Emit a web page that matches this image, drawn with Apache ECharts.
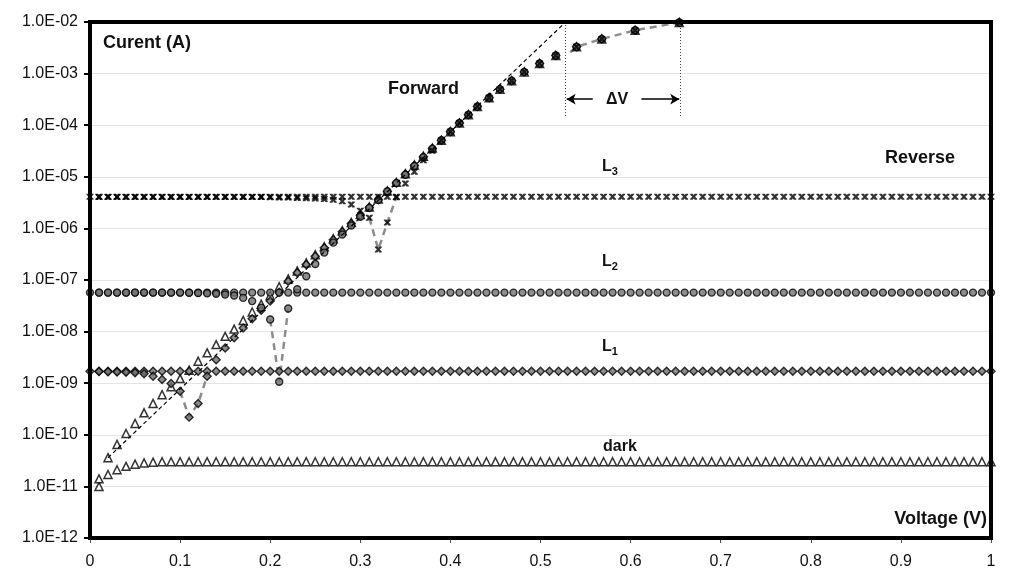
<!DOCTYPE html>
<html>
<head>
<meta charset="utf-8">
<script src="https://cdn.jsdelivr.net/npm/echarts@6/dist/echarts.min.js"></script>
<style>
  html, body { margin: 0; padding: 0; background: #fff; }
  #main { width: 1024px; height: 582px; }
</style>
</head>
<body>
<div id="main"></div>
<script>
// reverse sweep, 0 .. 1 V
var volts = [
  0.00, 0.01, 0.02, 0.03, 0.04, 0.05, 0.06, 0.07, 0.08, 0.09,
  0.10, 0.11, 0.12, 0.13, 0.14, 0.15, 0.16, 0.17, 0.18, 0.19,
  0.20, 0.21, 0.22, 0.23, 0.24, 0.25, 0.26, 0.27, 0.28, 0.29,
  0.30, 0.31, 0.32, 0.33, 0.34, 0.35, 0.36, 0.37, 0.38, 0.39,
  0.40, 0.41, 0.42, 0.43, 0.44, 0.45, 0.46, 0.47, 0.48, 0.49,
  0.50, 0.51, 0.52, 0.53, 0.54, 0.55, 0.56, 0.57, 0.58, 0.59,
  0.60, 0.61, 0.62, 0.63, 0.64, 0.65, 0.66, 0.67, 0.68, 0.69,
  0.70, 0.71, 0.72, 0.73, 0.74, 0.75, 0.76, 0.77, 0.78, 0.79,
  0.80, 0.81, 0.82, 0.83, 0.84, 0.85, 0.86, 0.87, 0.88, 0.89,
  0.90, 0.91, 0.92, 0.93, 0.94, 0.95, 0.96, 0.97, 0.98, 0.99,
  1.00
];
var revDark = [
  null, 1.0e-11, 1.7e-11, 2.1e-11, 2.45e-11, 2.7e-11, 2.85e-11, 2.95e-11, 3.0e-11, 3.0e-11,
  3.0e-11, 3.0e-11, 3.0e-11, 3.0e-11, 3.0e-11, 3.0e-11, 3.0e-11, 3.0e-11, 3.0e-11, 3.0e-11,
  3.0e-11, 3.0e-11, 3.0e-11, 3.0e-11, 3.0e-11, 3.0e-11, 3.0e-11, 3.0e-11, 3.0e-11, 3.0e-11,
  3.0e-11, 3.0e-11, 3.0e-11, 3.0e-11, 3.0e-11, 3.0e-11, 3.0e-11, 3.0e-11, 3.0e-11, 3.0e-11,
  3.0e-11, 3.0e-11, 3.0e-11, 3.0e-11, 3.0e-11, 3.0e-11, 3.0e-11, 3.0e-11, 3.0e-11, 3.0e-11,
  3.0e-11, 3.0e-11, 3.0e-11, 3.0e-11, 3.0e-11, 3.0e-11, 3.0e-11, 3.0e-11, 3.0e-11, 3.0e-11,
  3.0e-11, 3.0e-11, 3.0e-11, 3.0e-11, 3.0e-11, 3.0e-11, 3.0e-11, 3.0e-11, 3.0e-11, 3.0e-11,
  3.0e-11, 3.0e-11, 3.0e-11, 3.0e-11, 3.0e-11, 3.0e-11, 3.0e-11, 3.0e-11, 3.0e-11, 3.0e-11,
  3.0e-11, 3.0e-11, 3.0e-11, 3.0e-11, 3.0e-11, 3.0e-11, 3.0e-11, 3.0e-11, 3.0e-11, 3.0e-11,
  3.0e-11, 3.0e-11, 3.0e-11, 3.0e-11, 3.0e-11, 3.0e-11, 3.0e-11, 3.0e-11, 3.0e-11, 3.0e-11,
  3.0e-11
];
var revL1 = [
  1.7e-9, 1.7e-9, 1.7e-9, 1.7e-9, 1.7e-9, 1.7e-9, 1.7e-9, 1.7e-9, 1.7e-9, 1.7e-9,
  1.7e-9, 1.7e-9, 1.7e-9, 1.7e-9, 1.7e-9, 1.7e-9, 1.7e-9, 1.7e-9, 1.7e-9, 1.7e-9,
  1.7e-9, 1.7e-9, 1.7e-9, 1.7e-9, 1.7e-9, 1.7e-9, 1.7e-9, 1.7e-9, 1.7e-9, 1.7e-9,
  1.7e-9, 1.7e-9, 1.7e-9, 1.7e-9, 1.7e-9, 1.7e-9, 1.7e-9, 1.7e-9, 1.7e-9, 1.7e-9,
  1.7e-9, 1.7e-9, 1.7e-9, 1.7e-9, 1.7e-9, 1.7e-9, 1.7e-9, 1.7e-9, 1.7e-9, 1.7e-9,
  1.7e-9, 1.7e-9, 1.7e-9, 1.7e-9, 1.7e-9, 1.7e-9, 1.7e-9, 1.7e-9, 1.7e-9, 1.7e-9,
  1.7e-9, 1.7e-9, 1.7e-9, 1.7e-9, 1.7e-9, 1.7e-9, 1.7e-9, 1.7e-9, 1.7e-9, 1.7e-9,
  1.7e-9, 1.7e-9, 1.7e-9, 1.7e-9, 1.7e-9, 1.7e-9, 1.7e-9, 1.7e-9, 1.7e-9, 1.7e-9,
  1.7e-9, 1.7e-9, 1.7e-9, 1.7e-9, 1.7e-9, 1.7e-9, 1.7e-9, 1.7e-9, 1.7e-9, 1.7e-9,
  1.7e-9, 1.7e-9, 1.7e-9, 1.7e-9, 1.7e-9, 1.7e-9, 1.7e-9, 1.7e-9, 1.7e-9, 1.7e-9,
  1.7e-9
];
var revL2 = [
  5.7e-8, 5.7e-8, 5.7e-8, 5.7e-8, 5.7e-8, 5.7e-8, 5.7e-8, 5.7e-8, 5.7e-8, 5.7e-8,
  5.7e-8, 5.7e-8, 5.7e-8, 5.7e-8, 5.7e-8, 5.7e-8, 5.7e-8, 5.7e-8, 5.7e-8, 5.7e-8,
  5.7e-8, 5.7e-8, 5.7e-8, 5.7e-8, 5.7e-8, 5.7e-8, 5.7e-8, 5.7e-8, 5.7e-8, 5.7e-8,
  5.7e-8, 5.7e-8, 5.7e-8, 5.7e-8, 5.7e-8, 5.7e-8, 5.7e-8, 5.7e-8, 5.7e-8, 5.7e-8,
  5.7e-8, 5.7e-8, 5.7e-8, 5.7e-8, 5.7e-8, 5.7e-8, 5.7e-8, 5.7e-8, 5.7e-8, 5.7e-8,
  5.7e-8, 5.7e-8, 5.7e-8, 5.7e-8, 5.7e-8, 5.7e-8, 5.7e-8, 5.7e-8, 5.7e-8, 5.7e-8,
  5.7e-8, 5.7e-8, 5.7e-8, 5.7e-8, 5.7e-8, 5.7e-8, 5.7e-8, 5.7e-8, 5.7e-8, 5.7e-8,
  5.7e-8, 5.7e-8, 5.7e-8, 5.7e-8, 5.7e-8, 5.7e-8, 5.7e-8, 5.7e-8, 5.7e-8, 5.7e-8,
  5.7e-8, 5.7e-8, 5.7e-8, 5.7e-8, 5.7e-8, 5.7e-8, 5.7e-8, 5.7e-8, 5.7e-8, 5.7e-8,
  5.7e-8, 5.7e-8, 5.7e-8, 5.7e-8, 5.7e-8, 5.7e-8, 5.7e-8, 5.7e-8, 5.7e-8, 5.7e-8,
  5.7e-8
];
var revL3 = [
  4.1e-6, 4.1e-6, 4.1e-6, 4.1e-6, 4.1e-6, 4.1e-6, 4.1e-6, 4.1e-6, 4.1e-6, 4.1e-6,
  4.1e-6, 4.1e-6, 4.1e-6, 4.1e-6, 4.1e-6, 4.1e-6, 4.1e-6, 4.1e-6, 4.1e-6, 4.1e-6,
  4.1e-6, 4.1e-6, 4.1e-6, 4.1e-6, 4.1e-6, 4.1e-6, 4.1e-6, 4.1e-6, 4.1e-6, 4.1e-6,
  4.1e-6, 4.1e-6, 4.1e-6, 4.1e-6, 4.1e-6, 4.1e-6, 4.1e-6, 4.1e-6, 4.1e-6, 4.1e-6,
  4.1e-6, 4.1e-6, 4.1e-6, 4.1e-6, 4.1e-6, 4.1e-6, 4.1e-6, 4.1e-6, 4.1e-6, 4.1e-6,
  4.1e-6, 4.1e-6, 4.1e-6, 4.1e-6, 4.1e-6, 4.1e-6, 4.1e-6, 4.1e-6, 4.1e-6, 4.1e-6,
  4.1e-6, 4.1e-6, 4.1e-6, 4.1e-6, 4.1e-6, 4.1e-6, 4.1e-6, 4.1e-6, 4.1e-6, 4.1e-6,
  4.1e-6, 4.1e-6, 4.1e-6, 4.1e-6, 4.1e-6, 4.1e-6, 4.1e-6, 4.1e-6, 4.1e-6, 4.1e-6,
  4.1e-6, 4.1e-6, 4.1e-6, 4.1e-6, 4.1e-6, 4.1e-6, 4.1e-6, 4.1e-6, 4.1e-6, 4.1e-6,
  4.1e-6, 4.1e-6, 4.1e-6, 4.1e-6, 4.1e-6, 4.1e-6, 4.1e-6, 4.1e-6, 4.1e-6, 4.1e-6,
  4.1e-6
];

// forward sweep
var fwdVolts = [
  0.01, 0.02, 0.03, 0.04, 0.05, 0.06, 0.07, 0.08, 0.09, 0.10,
  0.11, 0.12, 0.13, 0.14, 0.15, 0.16, 0.17, 0.18, 0.19, 0.20,
  0.21, 0.22, 0.23, 0.24, 0.25, 0.26, 0.27, 0.28, 0.29, 0.30,
  0.31, 0.32, 0.33, 0.34, 0.35, 0.36, 0.37, 0.38,
  // all four curves coincide from here
  0.39, 0.40, 0.41, 0.42, 0.43, 0.443, 0.455, 0.468, 0.482, 0.499,
  0.517, 0.54, 0.568, 0.605, 0.654
];
var fwdDark = [
  1.4e-11, 3.6e-11, 6.5e-11, 1.06e-10, 1.66e-10, 2.67e-10, 4.05e-10, 6.0e-10, 8.5e-10, 1.23e-9,
  1.79e-9, 2.67e-9, 3.88e-9, 5.6e-9, 8.1e-9, 1.12e-8, 1.65e-8, 2.4e-8, 3.4e-8, 5.0e-8,
  7.4e-8, 1.05e-7, 1.5e-7, 2.15e-7, 3.1e-7, 4.4e-7, 6.3e-7, 9.0e-7, 1.3e-6, 1.85e-6,
  2.6e-6, 3.7e-6, 5.3e-6, 7.8e-6, 1.15e-5, 1.7e-5, 2.5e-5, 3.6e-5
];
var fwdL1 = [
  1.68e-9, 1.67e-9, 1.65e-9, 1.63e-9, 1.6e-9, 1.52e-9, 1.37e-9, 1.18e-9, 9.9e-10, 7.0e-10,
  2.2e-10, 4.05e-10, 1.37e-9, 2.85e-9, 4.8e-9, 7.6e-9, 1.18e-8, 1.77e-8, 2.6e-8, 3.9e-8,
  5.8e-8, 9.5e-8, 1.38e-7, 2.0e-7, 2.9e-7, 4.2e-7, 6.0e-7, 8.6e-7, 1.25e-6, 1.8e-6,
  2.55e-6, 3.6e-6, 5.2e-6, 7.6e-6, 1.12e-5, 1.65e-5, 2.45e-5, 3.55e-5
];
var fwdL2 = [
  5.7e-8, 5.7e-8, 5.7e-8, 5.7e-8, 5.7e-8, 5.7e-8, 5.7e-8, 5.7e-8, 5.7e-8, 5.7e-8,
  5.65e-8, 5.6e-8, 5.5e-8, 5.4e-8, 5.25e-8, 5.0e-8, 4.5e-8, 3.9e-8, 2.9e-8, 1.72e-8,
  1.07e-9, 2.8e-8, 6.6e-8, 1.18e-7, 2.04e-7, 3.4e-7, 5.3e-7, 7.6e-7, 1.14e-6, 1.68e-6,
  2.5e-6, 3.6e-6, 5.25e-6, 7.6e-6, 1.1e-5, 1.62e-5, 2.4e-5, 3.5e-5
];
var fwdL3 = [
  4.05e-6, 4.05e-6, 4.05e-6, 4.05e-6, 4.05e-6, 4.05e-6, 4.05e-6, 4.05e-6, 4.05e-6, 4.05e-6,
  4.05e-6, 4.05e-6, 4.05e-6, 4.05e-6, 4.05e-6, 4.05e-6, 4.05e-6, 4.05e-6, 4.05e-6, 4.0e-6,
  3.98e-6, 3.95e-6, 3.9e-6, 3.85e-6, 3.8e-6, 3.7e-6, 3.6e-6, 3.35e-6, 2.9e-6, 2.2e-6,
  1.6e-6, 3.9e-7, 1.3e-6, 4.0e-6, 7.4e-6, 1.25e-5, 2.1e-5, 3.2e-5
];
var fwdCommon = [
  5.1e-5, 7.5e-5, 1.1e-4, 1.6e-4, 2.3e-4, 3.4e-4, 5.0e-4, 7.3e-4, 1.08e-3, 1.57e-3,
  2.24e-3, 3.3e-3, 4.7e-3, 6.9e-3, 9.8e-3
];

// dashed grey curve through the saturation points
var satV = [0.533, 0.54, 0.568, 0.605, 0.654];
var satI = [2.6e-3, 3.3e-3, 4.7e-3, 6.9e-3, 9.8e-3];
// black dashed exponential extrapolation
var fitV = [0.02, 0.528];
var fitI = [3.6e-11, 1e-2];
// delta V markers
var dvV = [0.528, 0.655];

function pairs(xs, ys) {
  var out = [];
  for (var i = 0; i < xs.length; i++) {
    if (ys[i] != null) out.push([xs[i], ys[i]]);
  }
  return out;
}
function fwd(arr) {
  return pairs(fwdVolts, arr.concat(fwdCommon));
}

// bold x with flat ends, like the spreadsheet "x" marker
var xMark = 'path://M0,0L3.6,0L5,2.2L6.4,0L10,0L10,1.6L7,5L10,8.4L10,10L6.4,10L5,7.8L3.6,10L0,10L0,8.4L3,5L0,1.6Z';

var styles = {
  dark: { symbol: 'triangle', symbolSize: 8, itemStyle: { color: '#fff', borderColor: '#000', borderWidth: 1.5 } },
  L1: { symbol: 'diamond', symbolSize: 8, itemStyle: { color: '#707070', borderColor: '#000', borderWidth: 1.4 } },
  L2: { symbol: 'circle', symbolSize: 7, itemStyle: { color: '#707070', borderColor: '#000', borderWidth: 1.4 } },
  L3: { symbol: xMark, symbolSize: [7, 6], itemStyle: { color: '#000' } }
};

function scat(name, data) {
  var s = styles[name];
  return {
    type: 'scatter', name: name, data: data, z: 3,
    symbol: s.symbol, symbolSize: s.symbolSize, itemStyle: s.itemStyle,
    silent: true, clip: false
  };
}
function greyDash(data) {
  return {
    type: 'line', data: data, showSymbol: false, z: 2, silent: true,
    lineStyle: { color: '#8c8c8c', width: 2.5, type: [7, 5] }
  };
}

var fDark = fwd(fwdDark), fL1 = fwd(fwdL1), fL2 = fwd(fwdL2), fL3 = fwd(fwdL3);

var myChart = echarts.init(document.getElementById('main'));

var txt = '#111';
var option = {
  animation: false,
  backgroundColor: '#fff',
  grid: { left: 90, right: 33, top: 22, bottom: 44, containLabel: false },
  xAxis: {
    type: 'value', min: 0, max: 1, interval: 0.1,
    axisLine: { show: false },
    axisTick: { show: true, length: 5, lineStyle: { color: '#555', width: 1 } },
    axisLabel: {
      margin: 16, color: txt, fontSize: 16, fontFamily: 'Liberation Sans',
      formatter: function (v) { return String(+v.toFixed(1)); }
    },
    splitLine: { show: false }
  },
  yAxis: {
    type: 'log', logBase: 10, min: 1e-12, max: 1e-2, interval: 1,
    axisLine: { show: false },
    axisTick: { show: true, length: 6, lineStyle: { color: '#000', width: 2 } },
    axisLabel: {
      margin: 12, color: txt, fontSize: 16, fontFamily: 'Liberation Sans',
      formatter: function (v) {
        var e = Math.round(Math.log10(v));
        return '1.0E' + (e < 0 ? '-' : '+') + String(Math.abs(e)).padStart(2, '0');
      }
    },
    splitLine: { show: true, lineStyle: { color: '#e4e4e4', width: 1 } }
  },
  series: [
    greyDash(fL1.slice(9, 13)),
    greyDash(fL2.slice(19, 22)),
    greyDash(fL3.slice(30, 34)),
    Object.assign(greyDash(pairs(satV, satI)), {
      markLine: {
        silent: true, symbol: ['none', 'arrow'], symbolSize: [8, 9],
        label: { show: false },
        lineStyle: { color: '#000', width: 1.5, type: 'solid' },
        data: [
          [{ coord: [0.558, 3.2e-4] }, { coord: [dvV[0] + 0.001, 3.2e-4] }],
          [{ coord: [0.612, 3.2e-4] }, { coord: [dvV[1] - 0.001, 3.2e-4] }]
        ]
      }
    }),
    {
      type: 'line', data: pairs(fitV, fitI), showSymbol: false, z: 4, silent: true,
      lineStyle: { color: '#000', width: 1.2, type: [4, 3] },
      markLine: {
        silent: true, symbol: 'none', label: { show: false },
        lineStyle: { color: '#444', width: 1, type: [1, 2] },
        data: [
          [{ coord: [dvV[0], 1e-2] }, { coord: [dvV[0], 1.4e-4] }],
          [{ coord: [dvV[1], 1e-2] }, { coord: [dvV[1], 1.4e-4] }]
        ]
      }
    },
    scat('dark', pairs(volts, revDark)),
    scat('dark', fDark),
    scat('L1', pairs(volts, revL1)),
    scat('L1', fL1),
    scat('L2', pairs(volts, revL2)),
    scat('L2', fL2),
    scat('L3', pairs(volts, revL3)),
    scat('L3', fL3)
  ],
  graphic: [
    { type: 'rect', z: 100, silent: true,
      shape: { x: 90, y: 22, width: 901, height: 516 },
      style: { fill: null, stroke: '#000', lineWidth: 4 } },
    { type: 'text', z: 101, style: { x: 103, y: 43, text: 'Curent (A)', font: 'bold 18px "Liberation Sans"', fill: txt, textVerticalAlign: 'middle' } },
    { type: 'text', z: 101, style: { x: 987, y: 519, text: 'Voltage (V)', font: 'bold 18px "Liberation Sans"', fill: txt, textAlign: 'right', textVerticalAlign: 'middle' } },
    { type: 'text', z: 101, style: { x: 388, y: 89, text: 'Forward', font: 'bold 18px "Liberation Sans"', fill: txt, textVerticalAlign: 'middle' } },
    { type: 'text', z: 101, style: { x: 885, y: 158, text: 'Reverse', font: 'bold 18px "Liberation Sans"', fill: txt, textVerticalAlign: 'middle' } },
    { type: 'text', z: 101, style: { x: 617, y: 100, text: '\u0394V', font: 'bold 16px "Liberation Sans"', fill: txt, textAlign: 'center', textVerticalAlign: 'middle' } },
    { type: 'text', z: 101, style: { x: 603, y: 447, text: 'dark', font: 'bold 16px "Liberation Sans"', fill: txt, textVerticalAlign: 'middle' } },
    { type: 'text', z: 101, style: { x: 602, y: 167, text: '{a|L}{b|3}', fill: txt, textVerticalAlign: 'middle',
      rich: { a: { font: 'bold 16px "Liberation Sans"', fill: txt }, b: { font: 'bold 11px "Liberation Sans"', fill: txt, padding: [9, 0, 0, 0] } } } },
    { type: 'text', z: 101, style: { x: 602, y: 262, text: '{a|L}{b|2}', fill: txt, textVerticalAlign: 'middle',
      rich: { a: { font: 'bold 16px "Liberation Sans"', fill: txt }, b: { font: 'bold 11px "Liberation Sans"', fill: txt, padding: [9, 0, 0, 0] } } } },
    { type: 'text', z: 101, style: { x: 602, y: 347, text: '{a|L}{b|1}', fill: txt, textVerticalAlign: 'middle',
      rich: { a: { font: 'bold 16px "Liberation Sans"', fill: txt }, b: { font: 'bold 11px "Liberation Sans"', fill: txt, padding: [9, 0, 0, 0] } } } }
  ]
};

myChart.setOption(option);
</script>
</body>
</html>
